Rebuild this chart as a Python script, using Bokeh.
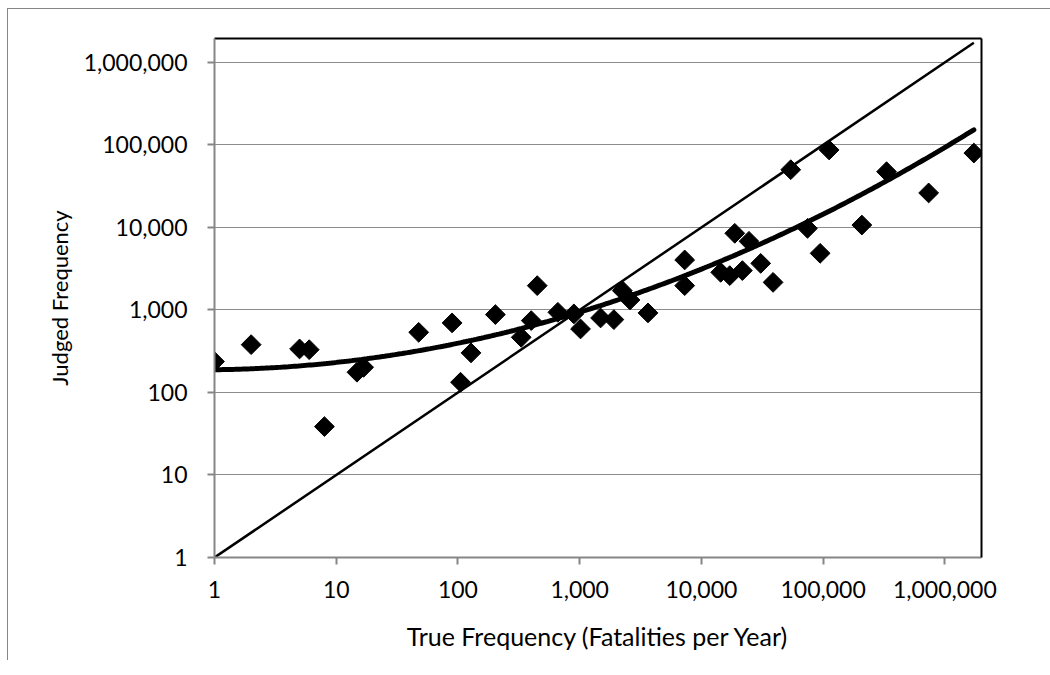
import numpy as np
from bokeh.plotting import figure
from bokeh.models import Range1d, FixedTicker, NumeralTickFormatter, LogAxis
from bokeh.embed import file_html
from bokeh.resources import INLINE

# True frequency (fatalities per year) vs judged frequency
true_freq = [1, 2, 5, 6, 8, 14.8, 16.8, 47.6, 89.5, 105, 128, 203, 331, 400, 448,
             662, 896, 1016, 1485, 1910, 2240, 2590, 3640, 7290, 7290, 14400,
             17100, 18800, 21700, 24600, 30700, 38800, 54200, 74400, 94500,
             112000, 208000, 332000, 736000, 1730000]
judged_freq = [237, 380, 337, 330, 38.6, 176, 202, 536, 697, 133, 302, 879, 466, 743,
               1972, 937, 896, 589, 800, 764, 1715, 1322, 921, 4040, 1972, 2858,
               2607, 8490, 3000, 6790, 3670, 2160, 50100, 9750, 4860,
               86900, 10700, 47400, 26200, 79800]
# quadratic curve in log-log space (log y = a*(log x)^2 + b*log x + c)
trend_coef = [0.0721, 0.0164, 2.276]
decade_ticks = [1, 10, 100, 1000, 10000, 100000, 1000000]

FONT = "Lato"
AXIS_GRAY = "#868686"

x = np.array(true_freq, dtype=float)
y = np.array(judged_freq, dtype=float)

fx = np.logspace(np.log10(x.min()), np.log10(x.max()), 300)
fy = 10 ** np.polyval(trend_coef, np.log10(fx))

p = figure(width=1050, height=675, x_axis_type="log", y_axis_type="log",
           x_range=Range1d(1, 2.0e6), y_range=Range1d(1, 1.95e6),
           output_backend="svg", toolbar_location=None,
           min_border_left=214, min_border_right=69,
           min_border_top=38, min_border_bottom=118)
# outer chart frame (left and top edges) painted behind a transparent border area
p.styles = {
    "background-color": "white",
    "background-image": (f"linear-gradient({AXIS_GRAY}, {AXIS_GRAY}), "
                         f"linear-gradient({AXIS_GRAY}, {AXIS_GRAY})"),
    "background-position": "7px 8px, 7px 8px",
    "background-size": "1px 652px, 1043px 1px",
    "background-repeat": "no-repeat, no-repeat",
}
p.outline_line_color = None
p.background_fill_color = "white"
p.border_fill_color = None

# identity line
p.line([x.min(), x.max()], [x.min(), x.max()], line_color="black", line_width=2.5)
# trend curve
p.line(fx, fy, line_color="black", line_width=5, line_cap="round")
# points
p.scatter(x, y, marker="square", size=14, angle=np.pi / 4,
          fill_color="black", line_color="black")

for ax in (p.xaxis[0], p.yaxis[0]):
    ax.ticker = FixedTicker(ticks=decade_ticks, minor_ticks=[])
    ax.formatter = NumeralTickFormatter(format="0,0")
    ax.axis_line_color = AXIS_GRAY
    ax.axis_line_width = 2
    ax.major_tick_line_color = AXIS_GRAY
    ax.major_tick_line_width = 2
    ax.major_tick_in = 0
    ax.major_tick_out = 7
    ax.minor_tick_line_color = None
    ax.major_label_text_font = FONT
    ax.major_label_text_font_size = "23px"
    ax.major_label_text_color = "black"
    ax.axis_label_text_font = FONT
    ax.axis_label_text_font_style = "normal"
    ax.axis_label_text_color = "black"

p.xaxis.axis_label = "True Frequency (Fatalities per Year)"
p.yaxis.axis_label = "Judged Frequency"
p.xaxis.axis_label_text_font_size = "25px"
p.yaxis.axis_label_text_font_size = "22px"
p.xaxis.major_label_standoff = 16
p.yaxis.major_label_standoff = 20
p.xaxis.axis_label_standoff = 20
p.yaxis.axis_label_standoff = 8

p.xgrid.grid_line_color = None
p.ygrid.grid_line_color = "#8c8c8c"
p.ygrid.grid_line_width = 1

# black top and right borders of the plot area
for side in ("above", "right"):
    a = LogAxis(ticker=FixedTicker(ticks=[]), axis_line_color="black",
                axis_line_width=2, major_tick_line_color=None,
                minor_tick_line_color=None, major_label_text_font_size="0px")
    p.add_layout(a, side)

open("out.html", "w").write(file_html(p, INLINE))
